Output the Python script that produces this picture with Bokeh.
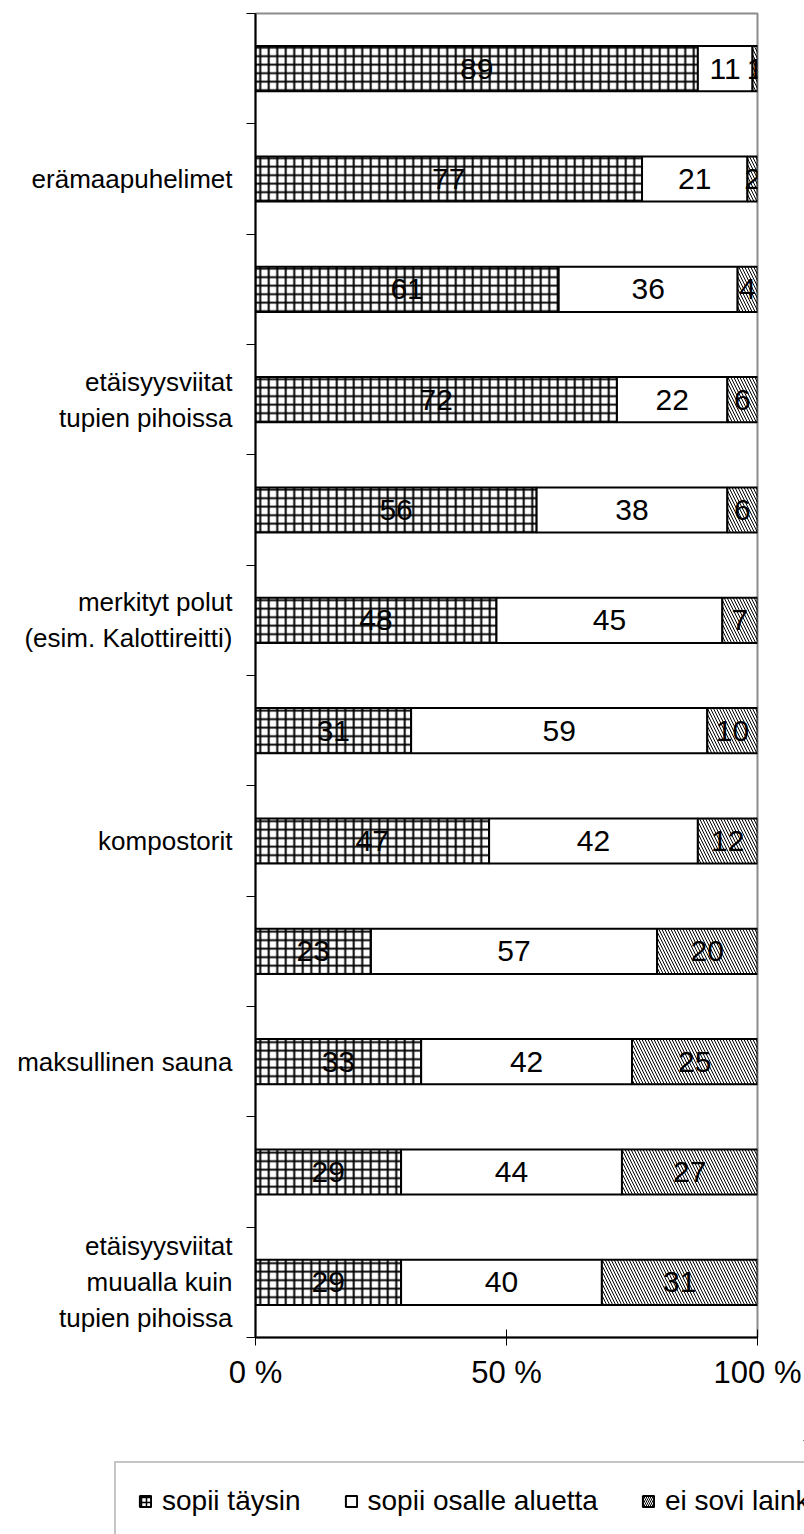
from bokeh.plotting import figure
from bokeh.layouts import column
from bokeh.models import Range1d, FixedTicker, Legend, LegendItem, ColumnDataSource
from bokeh.core.properties import value
from bokeh.embed import file_html
from bokeh.resources import INLINE

# ---- data (top to bottom) ----
categories = ["", "erämaapuhelimet", "", "etäisyysviitat\ntupien pihoissa", "",
              "merkityt polut\n(esim. Kalottireitti)", "", "kompostorit", "",
              "maksullinen sauna", "", "etäisyysviitat\nmuualla kuin\ntupien pihoissa"]
sopii_taysin = [89, 77, 61, 72, 56, 48, 31, 47, 23, 33, 29, 29]
sopii_osalle = [11, 21, 36, 22, 38, 45, 59, 42, 57, 42, 44, 40]
ei_sovi = [1, 2, 4, 6, 6, 7, 10, 12, 20, 25, 27, 31]
series_names = ["sopii täysin", "sopii osalle aluetta", "ei sovi lainkaan"]
x_ticks = [0, 50, 100]
x_tick_labels = ["0 %", "50 %", "100 %"]

FONT = "Liberation Sans"
n = len(categories)
ypos = [i + 0.5 for i in range(n)]

p = figure(width=804, height=1440, output_backend="svg", toolbar_location=None,
           x_range=Range1d(0, 100), y_range=Range1d(n, 0),
           min_border_left=255, min_border_right=47, min_border_top=13, min_border_bottom=103)
p.frame_align = False
p.background_fill_color = "white"
p.border_fill_color = "white"
p.outline_line_color = "#8c8c8c"
p.outline_line_width = 2
p.xgrid.visible = False
p.ygrid.visible = False

series = [sopii_taysin, sopii_osalle, ei_sovi]
styles = [
    dict(hatch_pattern="+", hatch_scale=8.5, hatch_weight=2, hatch_color="black"),
    dict(),
    dict(hatch_pattern="\\", hatch_scale=6, hatch_weight=1, hatch_color="black"),
]

totals = [a + b + c for a, b, c in zip(sopii_taysin, sopii_osalle, ei_sovi)]
cum = [0.0] * n
for s, st in zip(series, styles):
    left = [cum[i] for i in range(n)]
    right = [cum[i] + 100.0 * s[i] / totals[i] for i in range(n)]
    src = ColumnDataSource(dict(y=ypos, left=left, right=right,
                                mid=[(l + r) / 2 for l, r in zip(left, right)],
                                lab=[str(v) for v in s]))
    p.hbar(y="y", left="left", right="right", height=0.41, source=src,
           fill_color="white", line_color="black", line_width=2, **st)
    p.text(x="mid", y="y", text="lab", source=src, text_align="center",
           text_baseline="middle", text_font=value(FONT), text_font_size="30px",
           text_color="black")
    cum = right

# x axis
xa = p.xaxis[0]
xa.ticker = FixedTicker(ticks=x_ticks)
xa.major_label_overrides = {t: l for t, l in zip(x_ticks, x_tick_labels)}
xa.major_label_text_font = FONT
xa.major_label_text_font_size = "31px"
xa.major_label_text_color = "black"
xa.major_label_standoff = 9
xa.axis_line_color = "black"
xa.axis_line_width = 2
xa.major_tick_in = 8
xa.major_tick_out = 8
xa.major_tick_line_color = "black"
xa.minor_tick_line_color = None

# y axis
label_pos = [ypos[i] for i, c in enumerate(categories) if c]
ya = p.yaxis[0]
ya.ticker = FixedTicker(ticks=label_pos, minor_ticks=list(range(n + 1)))
ya.major_label_overrides = {ypos[i]: c for i, c in enumerate(categories) if c}
ya.major_label_text_font = FONT
ya.major_label_text_font_size = "26px"
ya.major_label_text_color = "black"
ya.major_label_standoff = 14
ya.major_tick_in = 0
ya.major_tick_out = 0
ya.minor_tick_in = 0
ya.minor_tick_out = 9
ya.minor_tick_line_color = "black"
ya.axis_line_color = "black"
ya.axis_line_width = 2

# ---- legend strip ----
p2 = figure(width=804, height=94, output_backend="svg", toolbar_location=None,
            x_range=Range1d(0, 1), y_range=Range1d(0, 1),
            x_axis_location=None, y_axis_location=None, min_border=0)
p2.frame_align = False
p2.outline_line_color = None
p2.xgrid.visible = False
p2.ygrid.visible = False
dummy = ColumnDataSource(dict(y=[5], left=[5], right=[6]))
legend_styles = [
    dict(hatch_pattern="+", hatch_scale=5, hatch_weight=1.5, hatch_color="black"),
    dict(),
    dict(hatch_pattern="\\", hatch_scale=4, hatch_weight=1, hatch_color="black"),
]
lrs = [p2.hbar(y="y", left="left", right="right", height=0.5, source=dummy,
               fill_color="white", line_color="black", line_width=2, **st)
       for st in legend_styles]
items = [LegendItem(label=nm, renderers=[r]) for nm, r in zip(series_names, lrs)]
legend = Legend(items=items, orientation="horizontal", location=(114, -7),
                label_text_font=FONT, label_text_font_size="28px", label_text_color="black",
                glyph_width=14, glyph_height=14, label_standoff=10, spacing=43,
                padding=22, label_height=30,
                border_line_color="#8c8c8c", border_line_width=2,
                background_fill_color="white", background_fill_alpha=1)
p2.add_layout(legend, "center")

layout = column(p, p2, spacing=0)
open("out.html", "w").write(file_html(layout, INLINE))
